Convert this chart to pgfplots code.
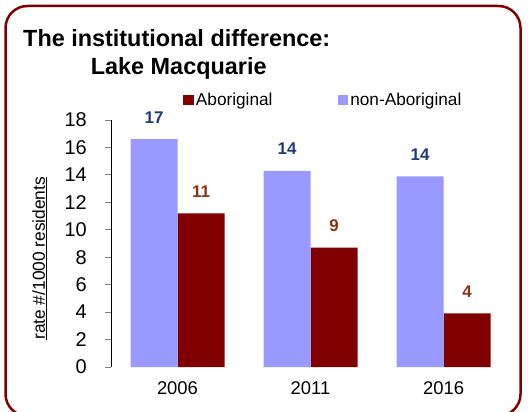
\documentclass[border=0pt]{standalone}
\usepackage{fontspec}
\setmainfont{Liberation Sans}
\usepackage{pgfplots}
\pgfplotsset{compat=1.18}
\definecolor{abcol}{HTML}{800000}
\definecolor{noncol}{HTML}{9999FF}
\definecolor{bordercol}{HTML}{800000}
\definecolor{bluelab}{HTML}{1F3A78}
\definecolor{brownlab}{HTML}{8B3310}
\pgfplotsset{sqlegend/.style={legend image code/.code={\fill[##1] (0bp,-5.3bp) rectangle (10.7bp,5.3bp);}}}
\begin{document}
\begin{tikzpicture}[x=1bp,y=1bp]
\useasboundingbox (0,0) rectangle (528,411);
\begin{scope}
\clip (0,0) rectangle (528,411);
\draw[line width=2.5bp, draw=bordercol, rounded corners=22bp] (5.5,-5) rectangle (520.5,405);
\end{scope}
\node[anchor=base west, inner sep=0pt, font=\fontsize{23.5}{24}\selectfont\bfseries] at (23,364.3) {The institutional difference:};
\node[anchor=base west, inner sep=0pt, font=\fontsize{23.5}{24}\selectfont\bfseries] at (90.7,337) {Lake Macquarie};
\begin{axis}[
  at={(111bp,44bp)}, anchor=south west,
  scale only axis, width=399bp, height=247bp,
  xmin=-0.5, xmax=2.5, ymin=0, ymax=18,
  clip=false,
  axis lines*=left,
  x axis line style={draw=none},
  y axis line style={black, line width=0.8bp},
  xtick={0,1,2}, xticklabels={2006,2011,2016},
  xtick style={draw=none},
  ytick={0,2,...,18},
  ytick style={gray, line width=0.8bp},
  tick align=outside, major tick length=6bp,
  /pgf/number format/assume math mode=true,
  yticklabel style={font=\fontsize{20}{20}\selectfont, inner sep=0pt, anchor=east, xshift=-18bp},
  xticklabel style={font=\fontsize{18.5}{18.5}\selectfont, inner sep=0pt, anchor=north, yshift=-8bp},
  ylabel={\underline{rate \#/1000 residents}},
  ylabel style={at={(axis description cs:-0.179,0.44)}, anchor=center, font=\fontsize{17.4}{18}\selectfont, inner sep=0pt},
  legend style={at={(axis description cs:0.1805,1.081)}, anchor=west, draw=none, fill=none,
     inner sep=0pt, font=\fontsize{17.3}{18}\selectfont,
     nodes={inner sep=2bp},
     /tikz/every even column/.append style={column sep=63bp}},
  legend columns=2,
]
\addplot[ybar, fill=abcol, draw=none, bar width=47bp, bar shift=23.5bp, sqlegend,
  nodes near coords={\pgfmathprintnumber[fixed,precision=0]{\pgfplotspointmeta}},
  every node near coord/.append style={font=\fontsize{17}{17}\selectfont\bfseries, text=brownlab, inner sep=0pt, anchor=south, yshift=16bp, xshift=23.5bp}]
  coordinates {(0,11.2) (1,8.7) (2,3.9)};
\addlegendentry{Aboriginal}
\addplot[ybar, fill=noncol, draw=none, bar width=47bp, bar shift=-23.5bp, sqlegend,
  nodes near coords={\pgfmathprintnumber[fixed,precision=0]{\pgfplotspointmeta}},
  every node near coord/.append style={font=\fontsize{17}{17}\selectfont\bfseries, text=bluelab, inner sep=0pt, anchor=south, yshift=16bp, xshift=-23.5bp}]
  coordinates {(0,16.6) (1,14.3) (2,13.9)};
\addlegendentry{non-Aboriginal}
\end{axis}
\end{tikzpicture}
\end{document}
